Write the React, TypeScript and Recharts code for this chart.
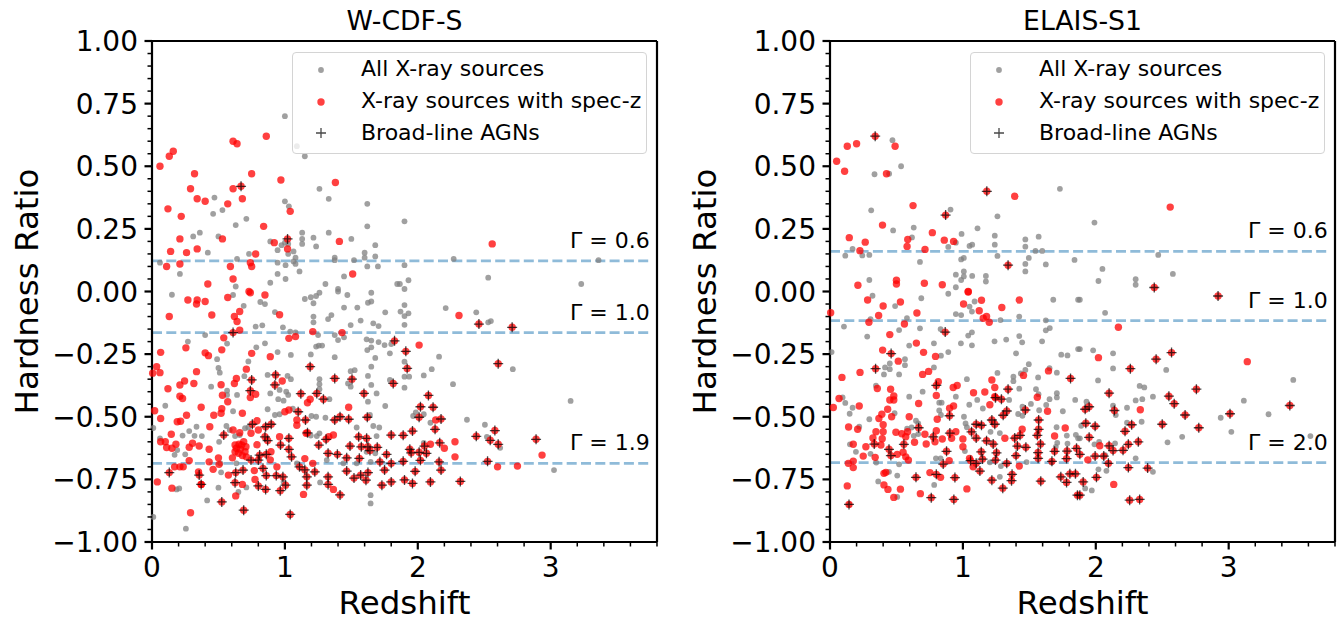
import { ScatterChart, Scatter, XAxis, YAxis, ReferenceLine, Legend } from "recharts";

type Pair = number[];

const xMajor = [0, 1, 2, 3];
const xTicks = [0, 0.2, 0.4, 0.6, 0.8, 1, 1.2, 1.4, 1.6, 1.8, 2, 2.2, 2.4, 2.6, 2.8, 3, 3.2, 3.4, 3.6, 3.8];
const yMajor = [-1, -0.75, -0.5, -0.25, 0, 0.25, 0.5, 0.75, 1];
const yTicks = [
  -1, -0.95, -0.9, -0.85, -0.8, -0.75, -0.7, -0.65, -0.6, -0.55, -0.5, -0.45, -0.4, -0.35, -0.3, -0.25, -0.2, -0.15,
  -0.1, -0.05, 0, 0.05, 0.1, 0.15, 0.2, 0.25, 0.3, 0.35, 0.4, 0.45, 0.5, 0.55, 0.6, 0.65, 0.7, 0.75, 0.8, 0.85, 0.9,
  0.95, 1,
];
const legendNames = ["All X-ray sources", "X-ray sources with spec-z", "Broad-line AGNs"];

const cdfsGammaValues = [0.122, -0.164, -0.686];
const cdfsGammaLabels = ["Γ = 0.6", "Γ = 1.0", "Γ = 1.9"];
const elaisGammaValues = [0.16, -0.116, -0.683];
const elaisGammaLabels = ["Γ = 0.6", "Γ = 1.0", "Γ = 2.0"];

const cdfsAll: Pair[] = [
  [1.0,.70],[1.09,.58],[1.15,.54],[1.26,.41],[1.33,.37],[.47,.375],[.46,.31],[.53,.325],[.63,.265],[.71,.29],[1.0,.36],[1.03,.34],
  [1.62,.35],[1.62,.26],[.31,.22],[.36,.235],[.50,.22],[.42,.155],[.73,.15],[.64,.13],[.06,.115],[.21,.07],[.89,.20],[.945,.165],
  [.975,.185],[1.0,.195],[1.025,.19],[1.025,.15],[1.065,.16],[1.08,.135],[1.065,.12],[1.08,.11],[.945,.115],[1.005,.105],[1.11,.08],
  [.945,.07],[1.005,.05],[.89,.035],[1.13,.235],[1.13,.21],[1.13,.19],[1.215,.215],[1.235,.18],[1.33,.235],[1.50,.21],[1.375,.135],
  [1.375,.125],[1.52,.125],[1.60,.155],[1.60,.135],[1.68,.185],[1.68,.14],[1.62,.10],[1.70,.10],[1.445,.06],[1.305,.03],[1.40,.01],
  [.63,.02],[1.845,.03],[1.90,.28],[2.27,.13],[1.90,.105],[1.93,.045],[1.90,.01],[2.53,.055],[3.23,.03],[3.36,.125],[1.865,.03],
  [1.90,-.054],[2.21,-.066],[2.44,-.083],[1.87,-.08],[1.90,-.098],[1.93,-.087],[1.90,-.133],[2.53,-.123],[2.55,-.118],[2.16,-.26],
  [2.105,-.31],[2.715,-.31],[1.90,-.28],[1.90,-.34],[1.935,-.34],[2.045,-.335],[2.265,-.37],[1.90,-.384],[3.15,-.437],[1.985,-.483],
  [1.965,-.497],[2.045,-.49],[2.095,-.524],[2.37,-.512],[2.505,-.532],[2.52,-.58],[2.62,-.624],[2.045,-.604],[3.025,-.713],
  [.15,-.013],[.61,-.014],[.69,-.057],[.815,-.042],[.85,-.05],[1.15,-.03],[1.195,-.023],[1.235,-.018],[1.215,-.047],[1.26,-.005],
  [1.40,0],[1.47,-.014],[1.445,-.064],[1.545,-.064],[1.625,-.045],[1.65,-.04],[1.65,-.005],[1.755,-.083],[1.35,-.094],[1.325,-.11],
  [1.215,-.10],[1.215,-.123],[.925,-.082],[.985,-.143],[.78,-.14],[.83,-.135],[1.495,-.134],[1.57,-.116],[1.665,-.127],[1.705,-.138],
  [.40,-.174],[.27,-.2],[.565,-.208],[.85,-.207],[.785,-.223],[1.04,-.16],[1.08,-.163],[1.25,-.174],[1.375,-.174],[1.40,-.194],
  [1.445,-.183],[1.615,-.191],[1.65,-.196],[1.705,-.202],[1.75,-.214],[1.80,-.21],[1.65,-.223],[1.62,-.234],[1.79,-.247],[.945,-.242],
  [1.045,-.253],[1.195,-.251],[1.235,-.22],[1.255,-.216],[1.28,-.216],[1.375,-.262],[1.68,-.265],[.49,-.27],[.725,-.279],[.50,-.305],
  [.51,-.324],[1.65,-.30],[1.495,-.318],[1.525,-.314],[1.625,-.337],[.87,-.333],[1.02,-.337],[1.045,-.35],[1.26,-.35],[1.26,-.37],
  [1.26,-.39],[1.475,-.367],[1.495,-.38],[1.65,-.373],[1.79,-.353],[.695,-.338],[.445,-.38],[.565,-.396],[.565,-.413],[.64,-.413],
  [.89,-.407],[.96,-.393],[1.01,-.40],[1.025,-.413],[.95,-.43],[.99,-.436],[.10,-.456],[.87,-.47],[.61,-.478],[1.69,-.407],[1.755,-.457],
  [1.625,-.44],[1.335,-.43],[.925,-.493],[.96,-.49],[1.2,-.497],[1.235,-.50],[1.305,-.504],[1.64,-.493],[1.06,-.468],[.70,-.546],
  [.725,-.543],[.01,-.545],[.335,-.54],[.28,-.557],[.23,-.575],[.32,-.576],[.375,-.577],[.06,-.586],[.505,-.60],[.56,-.537],[.585,-.553],
  [.625,-.577],[.66,-.573],[1.54,-.543],[1.665,-.537],[1.71,-.543],[1.69,-.577],[1.26,-.566],[1.24,-.577],[1.195,-.575],[1.615,-.64],
  [1.68,-.646],[.25,-.65],[.17,-.652],[.19,-.633],[.515,-.686],[.52,-.722],[.635,-.686],[1.09,-.686],[1.315,-.673],[1.44,-.686],
  [1.54,-.686],[1.645,-.68],[.185,-.79],[.205,-.786],[.50,-.783],[1.265,-.762],[.71,-.782],[.65,-.80],[1.645,-.813],[1.645,-.846],
  [.415,-.834],[.01,-.90],[.255,-.947],[.99,-.76],
];

const cdfsSpec: Pair[] = [
  [.06,.50],[.13,.54],[.16,.56],[.32,.47],[.61,.60],[.64,.59],[.86,.62],[.29,.41],[.34,.37],[.40,.36],[.61,.41],[.75,.47],[.68,.37],
  [.57,.35],[.12,.33],[.22,.30],[.97,.445],[1.04,.32],[1.38,.435],[.84,.26],[.21,.21],[.53,.21],[.14,.16],[.26,.155],[.34,.17],[.92,.195],
  [1.02,.17],[1.41,.20],[.78,.15],[.74,.115],[.75,.10],[.21,.11],[.11,.10],[.59,.10],[.61,.05],[.42,.03],[1.51,.07],[.73,0],
  [2.56,.19],[2.31,-.096],[2.01,-.214],[2.135,-.513],[2.095,-.61],[2.2,-.626],[2.28,-.60],[2.28,-.66],[2.6,-.70],[2.75,-.697],[2.935,-.653],
  [.27,-.034],[.34,-.034],[.335,-.05],[.40,-.04],[.57,-.024],[.74,-.005],[.85,-.014],[.13,-.10],[.45,-.094],[.62,-.10],[.66,-.08],[.64,-.12],
  [.96,-.093],[.66,-.154],[.54,-.185],[1.03,-.187],[1.08,-.18],[1.21,-.16],[1.43,-.164],[.255,-.225],[.525,-.233],[.065,-.243],[.40,-.245],
  [.425,-.256],[.75,-.247],[.89,-.26],[.035,-.30],[.06,-.324],[.005,-.326],[.335,-.32],[.71,-.31],[.245,-.357],[.315,-.367],[.21,-.373],
  [.12,-.388],[.52,-.372],[.635,-.347],[.62,-.367],[.98,-.357],[.21,-.418],[.23,-.427],[.53,-.414],[.57,-.44],[.74,-.423],[.78,-.41],
  [1.19,-.43],[1.17,-.444],[.37,-.462],[.525,-.468],[.02,-.476],[.26,-.494],[.465,-.494],[.52,-.486],[.68,-.486],[1.48,-.462],[.065,-.507],
  [.19,-.52],[.215,-.518],[1.0,-.48],[1.03,-.473],[1.09,-.513],[1.09,-.534],[.79,-.516],[.435,-.54],[.145,-.57],[.80,-.553],[.61,-.553],
  [.66,-.564],[.745,-.566],[.065,-.60],[.10,-.60],[.18,-.61],[.305,-.606],[.28,-.622],[.355,-.617],[.11,-.623],[.15,-.626],[.43,-.63],
  [.625,-.613],[.655,-.61],[.69,-.60],[.707,-.62],[.635,-.626],[.665,-.63],[.70,-.64],[.65,-.646],[.68,-.655],[.71,-.66],[.625,-.64],[.675,-.613],
  [.50,-.664],[.28,-.675],[.43,-.68],[.605,-.664],[1.15,-.667],[.17,-.70],[.21,-.70],[.235,-.70],[.46,-.71],[.505,-.69],[.35,-.72],[.575,-.733],
  [.04,-.76],[.15,-.785],[.37,-.77],[.68,-.77],[.775,-.75],[.77,-.715],[.895,-.64],[.89,-.672],[.94,-.70],[.79,-.612],[.96,-.58],[1.14,-.81],
  [.63,-.816],[.29,-.883],[1.365,-.79],[1.365,-.573],[1.33,-.58],[1.16,-.566],[1.21,-.686],
];

const cdfsBroad: Pair[] = [
  [.67,.42],[1.02,.21],[.61,-.164],[1.825,-.197],[1.19,-.30],[.93,-.333],[1.375,-.347],[1.505,-.35],[.75,-.353],[.925,-.373],[.74,-.396],
  [1.12,-.408],[1.24,-.407],[1.595,-.407],[1.29,-.43],[1.815,-.367],[1.10,-.48],[1.155,-.513],[1.375,-.513],[1.415,-.50],[1.48,-.51],
  [1.62,-.502],[.755,-.53],[.855,-.54],[.897,-.53],[.54,-.573],[.85,-.58],[.87,-.595],[1.03,-.586],[1.17,-.564],[.967,-.613],[1.03,-.63],
  [1.255,-.613],[1.31,-.59],[1.555,-.58],[1.615,-.586],[1.80,-.573],[1.49,-.617],[1.575,-.62],[1.625,-.62],[1.695,-.622],[1.64,-.635],
  [1.325,-.646],[1.395,-.65],[1.465,-.664],[1.05,-.66],[.81,-.653],[.86,-.65],[.80,-.673],[.745,-.673],[1.56,-.666],[1.765,-.65],[1.715,-.68],
  [1.80,-.686],[1.11,-.70],[1.15,-.712],[1.225,-.72],[.835,-.706],[.685,-.713],[.63,-.723],[1.465,-.717],[1.75,-.713],[.13,-.723],[.355,-.733],
  [.86,-.735],[.935,-.735],[.985,-.74],[1.325,-.74],[1.52,-.745],[1.57,-.733],[1.625,-.723],[1.61,-.753],[.625,-.763],[.37,-.77],[1.165,-.74],
  [1.165,-.773],[1.325,-.77],[1.73,-.773],[1.80,-.76],[.80,-.776],[.855,-.79],[.965,-.795],[1.005,-.773],[1.415,-.812],[.525,-.84],[.69,-.873],
  [1.04,-.89],[2.46,-.13],[2.71,-.143],[1.91,-.239],[1.92,-.307],[2.605,-.288],[2.08,-.415],[2.02,-.46],[2.115,-.462],[2.01,-.502],[2.175,-.509],
  [2.13,-.55],[1.96,-.557],[1.89,-.574],[2.44,-.578],[2.58,-.555],[2.89,-.59],[2.545,-.594],[2.605,-.61],[2.165,-.604],[2.05,-.617],[1.94,-.63],
  [1.95,-.644],[2.01,-.642],[2.065,-.646],[1.89,-.678],[2.02,-.674],[2.16,-.68],[2.525,-.678],[2.175,-.713],[1.98,-.718],[1.90,-.752],[1.96,-.766],
  [2.095,-.76],[2.32,-.758],
];

const elaisAll: Pair[] = [
  [.47,.604],[.535,.50],[.335,.468],[.445,.47],[1.73,.41],[.907,.327],[.31,.324],[1.26,.30],[.475,.244],[.63,.255],[1.11,.252],[.99,.23],
  [1.24,.223],[.617,.216],[.947,.195],[.89,.178],[1.05,.182],[1.07,.187],[1.24,.187],[1.47,.208],[1.57,.219],[1.47,.179],[1.546,.162],[1.597,.162],
  [.17,.17],[.115,.143],[.243,.144],[.296,.146],[.677,.118],[1.007,.134],[.987,.128],[1.26,.142],[1.496,.134],[1.47,.11],[1.624,.108],[1.84,.126],
  [1.47,.08],[1.007,.08],[.947,.067],[1.007,.06],[.987,.046],[1.07,.062],[1.173,.062],[1.173,.04],[.296,.046],[.947,.017],[1.99,.275],[2.47,.146],
  [2.05,.09],[2.58,.07],[2.02,.042],[2.30,.049],[2.30,.027],[1.88,-.033],[2.07,-.085],[1.88,-.23],[1.98,-.235],[2.13,-.247],[2.13,-.307],[2.53,-.313],
  [2.017,-.355],[2.33,-.377],[2.365,-.383],[2.43,-.42],[2.35,-.43],[2.30,-.435],[3.486,-.353],[3.114,-.436],[3.30,-.49],[2.94,-.504],[3.02,-.56],
  [3.615,-.577],[2.65,-.58],[2.54,-.602],[2.345,-.52],[2.235,-.524],[2.235,-.464],[2.13,-.456],[2.15,-.493],[1.93,-.44],[2.43,-.72],[2.30,-.666],
  [1.92,-.786],[1.97,-.794],[2.02,-.71],[2.08,-.716],[1.99,-.61],[2.025,-.60],[2.145,-.606],[1.88,-.586],[1.89,-.536],[2.07,-.653],
  [.32,-.017],[.49,-.058],[.687,-.027],[.89,-.009],[1.05,-.06],[1.088,-.04],[1.068,-.08],[.947,-.09],[.987,-.094],[1.68,-.033],[1.867,-.033],
  [1.424,-.10],[1.283,-.114],[1.624,-.115],[.105,-.14],[.305,-.11],[.579,-.106],[.677,-.147],[.52,-.154],[.28,-.18],[.832,-.15],[1.068,-.163],
  [1.04,-.176],[.985,-.207],[1.068,-.215],[1.238,-.199],[1.326,-.192],[1.424,-.178],[1.446,-.203],[1.596,-.199],[1.624,-.155],[1.654,-.146],
  [.782,-.207],[.596,-.216],[.89,-.242],[.835,-.256],[.012,-.242],[1.40,-.247],[1.74,-.252],[1.787,-.255],[1.867,-.23],[1.496,-.29],[1.47,-.313],
  [1.436,-.327],[1.652,-.306],[1.707,-.324],[.564,-.27],[.564,-.294],[.45,-.287],[.414,-.303],[.45,-.31],[.406,-.331],[.52,-.331],[.782,-.303],
  [1.26,-.325],[1.38,-.34],[1.566,-.343],[1.38,-.358],[1.03,-.35],[.346,-.376],[1.424,-.388],[1.55,-.39],[1.569,-.41],[1.707,-.406],[1.707,-.423],
  [.596,-.42],[.697,-.40],[.947,-.42],[.822,-.444],[.84,-.444],[1.108,-.433],[1.048,-.452],[1.348,-.433],[1.652,-.43],[1.845,-.433],[.095,-.423],
  [.115,-.445],[.17,-.464],[.148,-.488],[.296,-.51],[.486,-.486],[.822,-.475],[.835,-.493],[1.008,-.50],[1.15,-.467],[1.448,-.46],[1.512,-.449],
  [1.574,-.474],[1.627,-.453],[1.752,-.478],[1.416,-.489],[1.448,-.496],[1.02,-.527],[1.03,-.542],[.647,-.516],[.664,-.527],[.22,-.54],[.58,-.548],
  [.614,-.543],[.664,-.569],[.63,-.576],[1.208,-.56],[1.278,-.565],[1.705,-.542],[1.782,-.575],[1.85,-.572],[1.867,-.586],[.15,-.61],[.195,-.64],
  [.305,-.648],[1.015,-.637],[1.71,-.604],[1.699,-.62],[1.787,-.607],[.52,-.69],[.348,-.683],[.797,-.666],[.832,-.666],[1.203,-.682],[1.286,-.697],
  [1.479,-.681],[.444,-.72],[.506,-.735],[.363,-.758],[.784,-.772],[.506,-.82],[.145,-.85],[1.278,-.74],[1.667,-.683],
];

const elaisSpec: Pair[] = [
  [.05,.52],[.13,.58],[.20,.59],[.11,.48],[.49,.58],[.425,.47],[1.39,.38],[.625,.343],[.395,.265],[.77,.235],[.145,.215],[.265,.197],[.585,.208],
  [.58,.18],[.86,.205],[.93,.20],[.715,.168],[.225,.163],[.21,.025],[.50,.045],[.50,.03],[.71,.033],[.845,.027],[1.04,0],[2.56,.337],
  [.283,-.034],[.40,-.058],[.53,-.042],[.005,-.085],[.366,-.096],[.293,-.123],[.654,-.086],[.56,-.13],[.45,-.172],[.65,-.206],[.396,-.234],
  [.704,-.243],[.794,-.259],[.514,-.278],[.742,-.319],[.697,-.331],[.226,-.323],[.09,-.343],[.356,-.387],[.456,-.39],[.815,-.36],[.80,-.415],
  [.927,-.383],[.957,-.375],[.068,-.427],[.48,-.417],[.45,-.433],[.48,-.433],[.667,-.447],[.025,-.463],[.22,-.457],[.434,-.47],[.90,-.466],[.93,-.457],
  [.39,-.49],[.368,-.507],[.464,-.50],[.596,-.50],[.807,-.51],[.40,-.532],[.14,-.541],[.208,-.55],[.346,-.56],[.40,-.56],[.323,-.585],[.393,-.588],
  [.496,-.562],[.54,-.568],[.584,-.56],[.57,-.58],[.714,-.57],[.80,-.556],[.845,-.589],[.915,-.586],[.947,-.56],[1.0,-.589],[.636,-.602],[.724,-.609],
  [.79,-.60],[.175,-.61],[.27,-.62],[.383,-.613],[1.0,-.62],[.55,-.642],[.57,-.66],[.506,-.65],[.25,-.657],[.34,-.662],[.59,-.673],[.175,-.677],
  [.138,-.686],[.175,-.703],[1.05,-.666],[.897,-.675],[1.077,-.70],[.406,-.726],[.42,-.722],[.752,-.723],[.832,-.742],[.13,-.776],[.406,-.772],
  [.436,-.79],[.53,-.789],[.48,-.822],[.68,-.807],[1.03,-.788],[1.218,-.353],[1.24,-.383],[1.08,-.404],[1.165,-.401],[1.203,-.452],[1.24,-.42],
  [1.456,-.335],[1.644,-.317],[1.56,-.422],[1.637,-.478],[1.77,-.545],[1.69,-.577],[1.446,-.55],[1.424,-.697],[1.316,-.586],[1.005,-.05],[1.04,-.002],
  [1.14,-.035],[1.293,-.064],[1.424,-.034],[1.123,-.077],[1.178,-.10],[1.153,-.107],[1.198,-.123],[2.17,-.143],[2.02,-.264],[3.14,-.28],[2.335,-.472],
  [2.03,-.616],[1.94,-.672],[2.135,-.77],
];

const elaisBroad: Pair[] = [
  [.34,.62],[1.18,.40],[.87,.305],[1.34,.105],[2.44,.016],[.867,-.162],[.46,-.248],[.343,-.308],[1.81,-.347],[.80,-.375],[1.34,-.39],[1.245,-.424],
  [1.29,-.43],[1.47,-.473],[1.33,-.477],[1.303,-.494],[1.57,-.513],[.90,-.496],[1.218,-.513],[.667,-.544],[1.24,-.53],[1.57,-.55],[1.10,-.53],
  [1.14,-.534],[.902,-.565],[1.065,-.56],[.777,-.58],[1.43,-.574],[1.39,-.585],[1.56,-.574],[1.10,-.585],[1.178,-.596],[1.228,-.609],[.556,-.61],
  [.333,-.609],[.444,-.63],[1.584,-.609],[1.41,-.617],[1.474,-.622],[1.138,-.64],[.877,-.638],[1.253,-.644],[1.566,-.643],[1.69,-.638],[1.784,-.637],
  [1.855,-.626],[.458,-.655],[1.40,-.655],[1.245,-.673],[1.148,-.669],[1.566,-.666],[1.058,-.675],[1.10,-.686],[1.67,-.678],[1.78,-.667],[1.33,-.686],
  [.852,-.689],[1.128,-.717],[.80,-.73],[.647,-.742],[.94,-.743],[1.37,-.73],[1.737,-.74],[1.805,-.728],[1.847,-.728],[1.218,-.753],[1.366,-.755],
  [1.586,-.757],[1.78,-.762],[1.30,-.785],[1.862,-.813],[.762,-.823],[.932,-.83],[.143,-.85],[2.92,-.018],[2.57,-.244],[2.454,-.27],[2.26,-.308],
  [2.10,-.406],[2.55,-.418],[2.59,-.448],[2.757,-.39],[2.672,-.493],[1.95,-.46],[1.92,-.47],[2.14,-.475],[3.01,-.488],[3.46,-.455],[2.50,-.53],
  [2.775,-.544],[2.27,-.532],[1.925,-.526],[1.995,-.538],[2.22,-.558],[1.95,-.582],[2.32,-.60],[2.245,-.61],[2.10,-.616],[2.205,-.634],[2.13,-.635],
  [1.995,-.657],[1.88,-.65],[2.06,-.657],[2.095,-.686],[2.245,-.703],[2.39,-.705],[2.005,-.742],[1.905,-.76],[1.88,-.813],[2.255,-.833],[2.33,-.83],
];

const FONT = "DejaVu Sans";
const toRows = (pairs: Pair[]) => pairs.map(([x, y]) => ({ x, y }));

const GrayDot = (p: any) => <circle cx={p.cx} cy={p.cy} r={2.9} fill="#808080" fillOpacity={0.75} />;
const RedDot = (p: any) => <circle cx={p.cx} cy={p.cy} r={3.7} fill="#ff0000" fillOpacity={0.75} />;
const PlusMark = (p: any) => (
  <path
    d={`M${p.cx - 5} ${p.cy}H${p.cx + 5}M${p.cx} ${p.cy - 5}V${p.cy + 5}`}
    stroke="#000"
    strokeOpacity={0.72}
    strokeWidth={1.3}
    fill="none"
  />
);

const XTick = ({ x, y, payload }: any) => {
  const major = xMajor.includes(payload.value);
  return (
    <g>
      <line x1={x} x2={x} y1={y} y2={y + (major ? 7.5 : 4.5)} stroke="#000" strokeWidth={major ? 2.2 : 1.5} />
      {major && (
        <text x={x} y={y + 35} textAnchor="middle" fontSize={28} fontFamily={FONT} fill="#000">
          {payload.value}
        </text>
      )}
    </g>
  );
};

const YTick = ({ x, y, payload }: any) => {
  const major = yMajor.includes(payload.value);
  return (
    <g>
      <line x1={x} x2={x - (major ? 7.5 : 4.5)} y1={y} y2={y} stroke="#000" strokeWidth={major ? 2.2 : 1.5} />
      {major && (
        <text x={x - 14} y={y + 10} textAnchor="end" fontSize={28} fontFamily={FONT} fill="#000">
          {payload.value.toFixed(2).replace("-", "\u2212")}
        </text>
      )}
    </g>
  );
};

const LegendBox = () => {
  const row = { position: "absolute" as const, left: 68, fontSize: 22, fontFamily: FONT, color: "#000", lineHeight: "24px", whiteSpace: "nowrap" as const };
  return (
    <div
      style={{
        position: "relative",
        width: 353,
        height: 100,
        border: "1.5px solid #d4d4d4",
        borderRadius: 4,
        background: "rgba(255,255,255,0.8)",
      }}
    >
      <svg width={60} height={100} style={{ position: "absolute", left: 0, top: 0 }}>
        <GrayDot cx={28} cy={17} />
        <RedDot cx={28} cy={49} />
        <PlusMark cx={28} cy={80} />
      </svg>
      {legendNames.map((name, i) => (
        <div key={name} style={{ ...row, top: 4 + i * 32 }}>
          {name}
        </div>
      ))}
    </div>
  );
};

type PanelProps = {
  title: string;
  left: number;
  all: Pair[];
  spec: Pair[];
  broad: Pair[];
  gammaValues: number[];
  gammaLabels: string[];
  legendLeft: number;
};

function Panel({ title, left, all, spec, broad, gammaValues, gammaLabels, legendLeft }: PanelProps) {
  return (
    <div style={{ position: "absolute", left, top: 0 }}>
      <ScatterChart width={670} height={622} margin={{ top: 40, right: 12, bottom: 0, left: 0 }}>
        <XAxis
          type="number"
          dataKey="x"
          domain={[0, 3.8]}
          ticks={xTicks}
          interval={0}
          tick={<XTick />}
          tickLine={false}
          tickSize={0}
          tickMargin={0}
          height={80}
          stroke="#000"
          strokeWidth={2.2}
          label={{ value: "Redshift", position: "insideBottom", offset: 8, fontSize: 32.5, fontFamily: FONT, fill: "#000" }}
        />
        <XAxis
          xAxisId="top"
          orientation="top"
          type="number"
          domain={[0, 3.8]}
          tick={false}
          tickLine={false}
          height={1}
          stroke="#000"
          strokeWidth={2.2}
          label={{ value: title, position: "top", offset: 10, fontSize: 26.7, fontFamily: FONT, fill: "#000" }}
        />
        <YAxis
          type="number"
          dataKey="y"
          domain={[-1, 1]}
          ticks={yTicks}
          interval={0}
          tick={<YTick />}
          tickLine={false}
          tickSize={0}
          tickMargin={0}
          width={152}
          stroke="#000"
          strokeWidth={2.2}
          label={{ value: "Hardness Ratio", angle: -90, position: "insideLeft", offset: 26, fontSize: 32.5, fontFamily: FONT, fill: "#000", style: { textAnchor: "middle" } }}
        />
        <YAxis
          yAxisId="right"
          orientation="right"
          type="number"
          domain={[-1, 1]}
          tick={false}
          tickLine={false}
          width={1}
          stroke="#000"
          strokeWidth={2.2}
        />
        {gammaValues.map((g, i) => (
          <ReferenceLine
            key={g}
            segment={[{ x: 0, y: g }, { x: 3.76, y: g }]}
            stroke="#1f77b4"
            strokeOpacity={0.5}
            strokeWidth={2.7}
            strokeDasharray="10 4.3"
            label={{ value: gammaLabels[i], position: "insideBottomRight", offset: 6, dx: 4, dy: -7, fontSize: 22, fontFamily: FONT, fill: "#000" }}
          />
        ))}
        <Scatter name={legendNames[0]} data={toRows(all)} shape={GrayDot} isAnimationActive={false} />
        <Scatter name={legendNames[1]} data={toRows([...spec, ...broad])} shape={RedDot} isAnimationActive={false} />
        <Scatter name={legendNames[2]} data={toRows(broad)} shape={PlusMark} isAnimationActive={false} />
        <Legend
          layout="vertical"
          align="center"
          verticalAlign="middle"
          content={<LegendBox />}
          wrapperStyle={{ position: "absolute", left: legendLeft, top: 52, width: 356, height: 103 }}
        />
      </ScatterChart>
    </div>
  );
}

export default function App() {
  return (
    <div style={{ position: "absolute", left: 0, top: 0, width: 1342, height: 622, background: "#fff", overflow: "hidden" }}>
      <Panel title="W-CDF-S" left={0} all={cdfsAll} spec={cdfsSpec} broad={cdfsBroad} gammaValues={cdfsGammaValues} gammaLabels={cdfsGammaLabels} legendLeft={292} />
      <Panel title="ELAIS-S1" left={678} all={elaisAll} spec={elaisSpec} broad={elaisBroad} gammaValues={elaisGammaValues} gammaLabels={elaisGammaLabels} legendLeft={292} />
    </div>
  );
}
